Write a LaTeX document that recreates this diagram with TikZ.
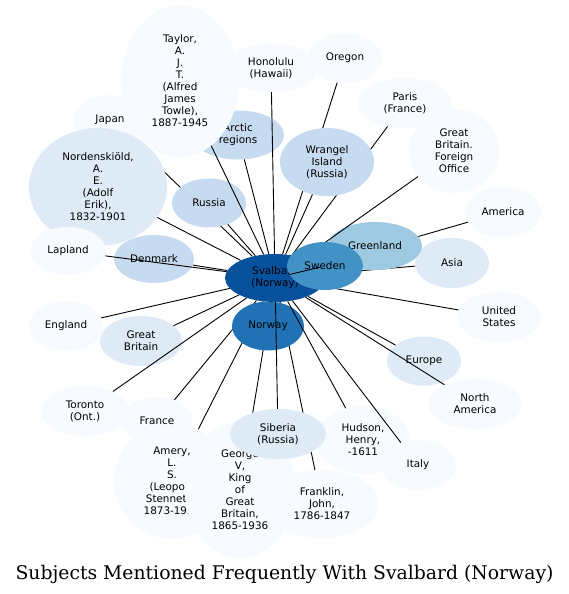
\documentclass[tikz,border=0pt]{standalone}
\usepackage{fontspec}
\newfontfamily\nodefont{DejaVu Sans}
\newfontfamily\titlefont{DejaVu Serif}
\usetikzlibrary{shapes.geometric}
\definecolor{cA}{HTML}{08519C}
\definecolor{cB}{HTML}{2171B5}
\definecolor{cC}{HTML}{4292C6}
\definecolor{cD}{HTML}{9ECAE1}
\definecolor{cE}{HTML}{C6DBEF}
\definecolor{cF}{HTML}{DEEBF7}
\definecolor{cG}{HTML}{F7FBFF}
\begin{document}
\begin{tikzpicture}[x=1pt,y=-1pt,
  nd/.style={ellipse, draw=none, inner sep=0pt, align=center, text=black,
    font=\nodefont\fontsize{10.4}{12}\selectfont},
  ed/.style={draw=black, line width=0.9pt}]
\useasboundingbox (0,0) rectangle (569,594);
\node[nd,fill=cA,minimum width=100pt,minimum height=48pt] (sv) at (275,278) {Svalbard\\(Norway)};
\node[nd,fill=cG,minimum width=74pt,minimum height=50pt] (japan) at (110,120) {Japan};
\draw[ed] (sv) -- (japan);
\node[nd,fill=cF,minimum width=138pt,minimum height=118pt] (nord) at (98,187) {Nordenskiöld,\\A.\\E.\\(Adolf\\Erik),\\1832-1901};
\draw[ed] (sv) -- (nord);
\node[nd,fill=cE,minimum width=74pt,minimum height=49pt] (russia) at (209,203) {Russia};
\draw[ed] (sv) -- (russia);
\node[nd,fill=cE,minimum width=92pt,minimum height=49pt] (arctic) at (238,135) {Arctic\\regions};
\draw[ed] (sv) -- (arctic);
\node[nd,fill=cG,minimum width=94pt,minimum height=48pt] (hono) at (271,68) {Honolulu\\(Hawaii)};
\draw[ed] (sv) -- (hono);
\node[nd,fill=cG,minimum width=118pt,minimum height=152pt] (taylor) at (180,81) {Taylor,\\A.\\J.\\T.\\(Alfred\\James\\Towle),\\1887-1945};
\draw[ed] (sv) -- (taylor);
\node[nd,fill=cG,minimum width=74pt,minimum height=50pt] (oregon) at (345,58) {Oregon};
\draw[ed] (sv) -- (oregon);
\node[nd,fill=cG,minimum width=94pt,minimum height=50pt] (paris) at (405,103) {Paris\\(France)};
\draw[ed] (sv) -- (paris);
\node[nd,fill=cE,minimum width=94pt,minimum height=68pt] (wrangel) at (327,162) {Wrangel\\Island\\(Russia)};
\draw[ed] (sv) -- (wrangel);
\node[nd,fill=cE,minimum width=80pt,minimum height=48pt] (denmark) at (154,259) {Denmark};
\draw[ed] (sv) -- (denmark);
\node[nd,fill=cG,minimum width=76pt,minimum height=48pt] (lapland) at (68,251) {Lapland};
\draw[ed] (sv) -- (lapland);
\node[nd,fill=cG,minimum width=74pt,minimum height=50pt] (england) at (66,326) {England};
\draw[ed] (sv) -- (england);
\node[nd,fill=cF,minimum width=82pt,minimum height=50pt] (gb) at (141,341) {Great\\Britain};
\draw[ed] (sv) -- (gb);
\node[nd,fill=cG,minimum width=88pt,minimum height=50pt] (toronto) at (85,411) {Toronto\\(Ont.)};
\draw[ed] (sv) -- (toronto);
\node[nd,fill=cG,minimum width=116pt,minimum height=116pt] (amery) at (172,481) {Amery,\\L.\\S.\\(Leopold\\Stennett),\\1873-1955};
\draw[ed] (sv) -- (amery);
\node[nd,fill=cG,minimum width=72pt,minimum height=48pt] (france) at (157,421) {France};
\draw[ed] (sv) -- (france);
\node[nd,fill=cG,minimum width=114pt,minimum height=68pt] (franklin) at (322,504) {Franklin,\\John,\\1786-1847};
\draw[ed] (sv) -- (franklin);
\node[nd,fill=cG,minimum width=110pt,minimum height=136pt] (george) at (240,490) {George\\V,\\King\\of\\Great\\Britain,\\1865-1936};
\draw[ed] (sv) -- (george);
\node[nd,fill=cB,minimum width=72pt,minimum height=49pt] (norway) at (268,326) {Norway};
\draw[ed] (sv) -- (norway);
\node[nd,fill=cG,minimum width=94pt,minimum height=68pt] (hudson) at (363,440) {Hudson,\\Henry,\\-1611};
\draw[ed] (sv) -- (hudson);
\node[nd,fill=cG,minimum width=76pt,minimum height=50pt] (italy) at (418,465) {Italy};
\draw[ed] (sv) -- (italy);
\node[nd,fill=cF,minimum width=96pt,minimum height=50pt] (siberia) at (278,434) {Siberia\\(Russia)};
\draw[ed] (sv) -- (siberia);
\node[nd,fill=cF,minimum width=74pt,minimum height=49pt] (europe) at (424,361) {Europe};
\draw[ed] (sv) -- (europe);
\node[nd,fill=cG,minimum width=94pt,minimum height=50pt] (namerica) at (475,404) {North\\America};
\draw[ed] (sv) -- (namerica);
\node[nd,fill=cG,minimum width=84pt,minimum height=50pt] (us) at (499,317) {United\\States};
\draw[ed] (sv) -- (us);
\node[nd,fill=cF,minimum width=74pt,minimum height=50pt] (asia) at (452,263) {Asia};
\draw[ed] (sv) -- (asia);
\node[nd,fill=cG,minimum width=76pt,minimum height=50pt] (america) at (503,212) {America};
\draw[ed] (sv) -- (america);
\node[nd,fill=cD,minimum width=94pt,minimum height=48pt] (greenland) at (375,246) {Greenland};
\draw[ed] (sv) -- (greenland);
\node[nd,fill=cG,minimum width=90pt,minimum height=84pt] (gbfo) at (454,151) {Great\\Britain.\\Foreign\\Office};
\draw[ed] (sv) -- (gbfo);
\node[nd,fill=cC,minimum width=76pt,minimum height=48pt] (sweden) at (325,266) {Sweden};
\draw[ed] (sv) -- (sweden);
\node[anchor=base,inner sep=0pt,font=\titlefont\fontsize{18.8}{22}\selectfont] (title) at (284.5,579) {Subjects Mentioned Frequently With Svalbard (Norway)};
\end{tikzpicture}
\end{document}
